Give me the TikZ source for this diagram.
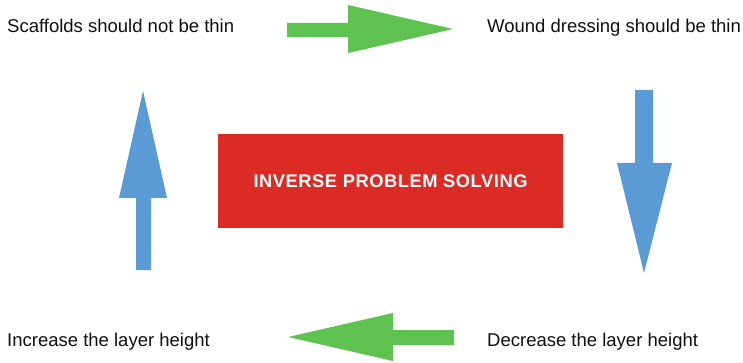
\documentclass[tikz,border=0pt]{standalone}
\usepackage{fontspec}
\setmainfont{Liberation Sans}
\usepackage{xcolor}
\usetikzlibrary{positioning}

\definecolor{arrowgreen}{RGB}{93,194,80}
\definecolor{arrowblue}{RGB}{91,155,213}
\definecolor{boxred}{RGB}{219,43,36}
\definecolor{labelgray}{RGB}{15,15,15}

\begin{document}
\begin{tikzpicture}[x=1pt, y=-1pt,
        label/.style={anchor=base west, inner sep=0pt, text=labelgray,
            font=\fontsize{18.5}{22}\selectfont},
        greenarrow/.style={fill=arrowgreen},
        bluearrow/.style={fill=arrowblue}]
        \useasboundingbox (0,0) rectangle (743,363);

        % the four statements round the loop
        \node[label] (scaf) at (7,33)   {Scaffolds should not be thin};
        \node[label] (wound) at (487,33) {Wound dressing should be thin};
        \node[label] (incr) at (7,346)  {Increase the layer height};
        \node[label] (decr) at (487,346) {Decrease the layer height};

        % centre box
        \node[fill=boxred, text=white, minimum width=345pt, minimum height=94pt,
            inner sep=0pt, font=\fontsize{18.3}{22}\selectfont\bfseries\addfontfeatures{LetterSpace=3}]
            (inv) at (390.5,181) {INVERSE PROBLEM SOLVING};

        % fat arrows
        \fill[greenarrow] (287,23) -- (348,23) -- (348,5) -- (453,29)
            -- (348,53) -- (348,37) -- (287,37) -- cycle;
        \fill[bluearrow] (635,90) -- (653,90) -- (653,163) -- (672,163)
            -- (644,273) -- (617,163) -- (635,163) -- cycle;
        \fill[greenarrow] (454,330) -- (393,330) -- (393,313) -- (288,337)
            -- (393,361) -- (393,345) -- (454,345) -- cycle;
        \fill[bluearrow] (136,270) -- (151,270) -- (151,198) -- (167,198)
            -- (143,91) -- (119,198) -- (136,198) -- cycle;
    \end{tikzpicture}
\end{document}
